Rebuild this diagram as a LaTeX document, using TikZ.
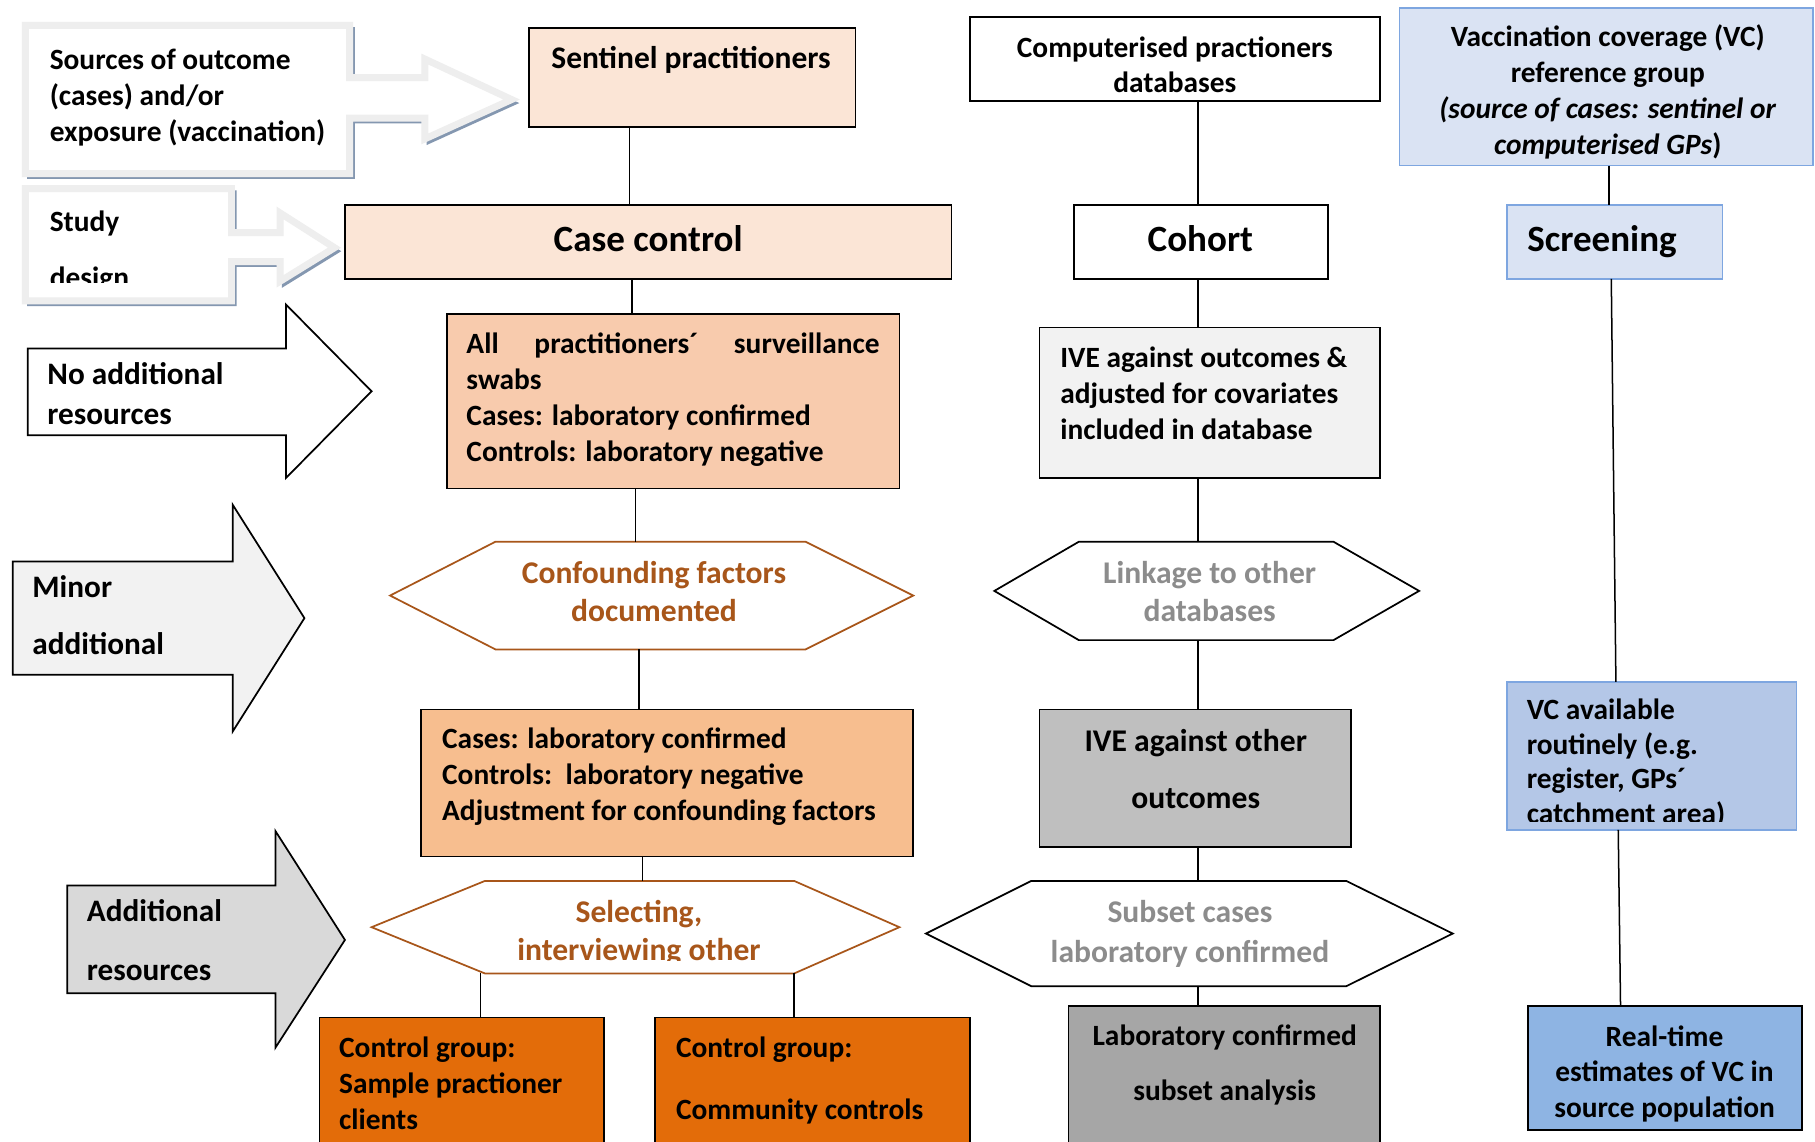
\documentclass[tikz,border=0pt]{standalone}
\usepackage{fontspec}
\setmainfont{Carlito}
\usetikzlibrary{calc}
\definecolor{peachA}{HTML}{FBE5D6}
\definecolor{peachB}{HTML}{F8CBAD}
\definecolor{peachC}{HTML}{F7BE8F}
\definecolor{orangeD}{HTML}{E36C09}
\definecolor{greyA}{HTML}{F2F2F2}
\definecolor{greyB}{HTML}{BFBFBF}
\definecolor{greyC}{HTML}{A6A6A6}
\definecolor{greyD}{HTML}{D9D9D9}
\definecolor{blueA}{HTML}{DAE3F3}
\definecolor{blueB}{HTML}{B4C7E7}
\definecolor{blueC}{HTML}{8EB4E3}
\definecolor{blueLine}{HTML}{7EA6E0}
\definecolor{brownH}{HTML}{A8561A}
\definecolor{greyT}{HTML}{8C8C8C}
\definecolor{shadowC}{HTML}{8497B0}
\definecolor{calloutC}{HTML}{EEEEEE}
\begin{document}
\begin{tikzpicture}[x=1pt,y=-1pt,
  bx/.style={draw=black, line width=1.5pt, anchor=north west, inner sep=0pt, outer sep=0pt},
  hx/.style={inner sep=0pt, outer sep=0pt},
  hexbrown/.style={draw=brownH, line width=1.5pt, fill=white},
  hexblack/.style={draw=black, line width=1.5pt, fill=white},
  ln/.style={line width=1.3pt},
  blockarrow/.style={draw=black, line width=1.5pt},
  ftA/.style={font=\fontsize{25.4}{31}\selectfont\bfseries},
  ftB/.style={font=\fontsize{27}{34}\selectfont\bfseries},
  ftC/.style={font=\fontsize{32}{38}\selectfont\bfseries},
  tx/.style={inner sep=0pt, outer sep=0pt, align=left, anchor=west, yshift=-2.5pt},
  tc/.style={inner sep=0pt, outer sep=0pt, align=center, anchor=center, yshift=-2.5pt},
]
\useasboundingbox (0,0) rectangle (1568,986);
\clip (0,0) rectangle (1568,986);
\fill[white] (0,0) rectangle (1568,986);

% ---------- callout: sources ----------
\begin{scope}[shift={(3,3)}]
\draw[shadowC, line width=3pt] (22,22) -- (302,22) -- (302,67) -- (367,67) -- (367,51) -- (442,86) -- (367,120) -- (367,102) -- (302,102) -- (302,150) -- (22,150) -- cycle;
\end{scope}
\fill[white] (22,22) -- (302,22) -- (302,67) -- (367,67) -- (367,51) -- (442,86) -- (367,120) -- (367,102) -- (302,102) -- (302,150) -- (22,150) -- cycle;
\draw[calloutC, line width=6pt] (22,22) -- (302,22) -- (302,67) -- (367,67) -- (367,51) -- (442,86) -- (367,120) -- (367,102) -- (302,102) -- (302,150) -- (22,150) -- cycle;
\node[tx, ftA] (srcT) at (43,82.5) {\strut Sources of outcome\\\strut (cases) and/or\\\strut exposure (vaccination)};

% ---------- callout: study design ----------
\begin{scope}[shift={(3,3)}]
\draw[shadowC, line width=3pt] (22,163) -- (200,163) -- (200,201) -- (242,201) -- (242,184) -- (289,214) -- (242,243) -- (242,226) -- (200,226) -- (200,260) -- (22,260) -- cycle;
\end{scope}
\fill[white] (22,163) -- (200,163) -- (200,201) -- (242,201) -- (242,184) -- (289,214) -- (242,243) -- (242,226) -- (200,226) -- (200,260) -- (22,260) -- cycle;
\draw[calloutC, line width=6pt] (22,163) -- (200,163) -- (200,201) -- (242,201) -- (242,184) -- (289,214) -- (242,243) -- (242,226) -- (200,226) -- (200,260) -- (22,260) -- cycle;
\begin{scope}
\clip (22,163) rectangle (200,244);
\node[tx, font=\fontsize{25.4}{48}\selectfont\bfseries] (studyT) at (43,212.2) {\strut Study\\\strut design};
\end{scope}

% ---------- block arrows ----------
\draw[blockarrow, fill=white] (24,301) -- (247,301) -- (247,263) -- (321,338) -- (247,413) -- (247,376) -- (24,376) -- cycle;
\node[tx, ftB] (noaddT) at (41,340) {\strut No additional\\\strut resources};

\draw[blockarrow, fill=greyA] (11,485) -- (201,485) -- (201,436) -- (263,534) -- (201,632) -- (201,583) -- (11,583) -- cycle;
\node[tx, font=\fontsize{27}{50}\selectfont\bfseries] (minorT) at (28,528.3) {\strut Minor\\\strut additional};

\draw[blockarrow, fill=greyD] (58,765) -- (238,765) -- (238,718) -- (298,812) -- (238,905) -- (238,858) -- (58,858) -- cycle;
\node[tx, font=\fontsize{27}{51}\selectfont\bfseries] (addT) at (75,808.8) {\strut Additional\\\strut resources};

% ---------- case-control column ----------
\node[bx, fill=peachA, minimum width=282pt, minimum height=86pt] (sent) at (457,24) {};
\node[tc, font=\fontsize{27.2}{33}\selectfont\bfseries] (sentT) at (597,50) {\strut Sentinel practitioners};

\node[bx, fill=peachA, minimum width=524pt, minimum height=64pt] (cc) at (298,177) {};
\node[tc, ftC] (ccT) at (560,207) {\strut Case control};

\node[bx, fill=peachB, minimum width=391pt, minimum height=151pt] (allp) at (386,271) {};
\node[tx, ftA] (allpT) at (403,343.5) {\strut\makebox[357pt][s]{All practitioners´ surveillance}\\\strut swabs\\\strut Cases: laboratory confirmed\\\strut Controls: laboratory negative};

\node[hx, minimum width=452pt, minimum height=93pt] (conf) at (563,514.5) {};
\draw[hexbrown] (conf.west) -- ($(conf.north west)+(91,0)$) -- ($(conf.north east)+(-93,0)$) -- (conf.east) -- ($(conf.south east)+(-93,0)$) -- ($(conf.south west)+(91,0)$) -- cycle;
\node[tc, font=\fontsize{27.3}{33}\selectfont\bfseries, text=brownH] (confT) at (565,511.5) {\strut Confounding factors\\\strut documented};

\node[bx, fill=peachC, minimum width=425pt, minimum height=127pt] (cases) at (364,613) {};
\node[tx, ftA] (casesT) at (382,669) {\strut Cases: laboratory confirmed\\\strut Controls:\ \ laboratory negative\\\strut Adjustment for confounding factors};

\node[hx, minimum width=456pt, minimum height=80pt] (sel) at (549,801) {};
\draw[hexbrown] (sel.west) -- ($(sel.north west)+(98,0)$) -- ($(sel.north east)+(-91,0)$) -- (sel.east) -- ($(sel.south east)+(-91,0)$) -- ($(sel.south west)+(98,0)$) -- cycle;
\begin{scope}
\clip (321,761) rectangle (777,830);
\node[tc, font=\fontsize{27.3}{33}\selectfont\bfseries, text=brownH] (selT) at (552,804.5) {\strut Selecting,\\\strut interviewing other};
\end{scope}

\node[bx, fill=orangeD, minimum width=246pt, minimum height=120pt] (ctrlA) at (276,879) {};
\node[tx, ftA] (ctrlAT) at (293,936) {\strut Control group:\\\strut Sample practioner\\\strut clients};

\node[bx, fill=orangeD, minimum width=272pt, minimum height=120pt] (ctrlB) at (566,879) {};
\node[tx, font=\fontsize{25.4}{54}\selectfont\bfseries] (ctrlBT) at (584,927) {\strut Control group:\\\strut Community controls};

% ---------- cohort column ----------
\node[bx, fill=white, minimum width=354pt, minimum height=72pt] (comp) at (838,15) {};
\node[tc, font=\fontsize{25.4}{30}\selectfont\bfseries] (compT) at (1015,56) {\strut Computerised practioners\\\strut databases};

\node[bx, fill=white, minimum width=219pt, minimum height=64pt] (coh) at (928,177) {};
\node[tc, ftC] (cohT) at (1037,207) {\strut Cohort};

\node[bx, fill=greyA, minimum width=294pt, minimum height=130pt] (ive1) at (898,283) {};
\node[tx, ftA] (ive1T) at (916,340) {\strut IVE against outcomes \&\\\strut adjusted for covariates\\\strut included in database};

\node[hx, minimum width=367pt, minimum height=85pt] (link) at (1042.5,510.5) {};
\draw[hexblack] (link.west) -- ($(link.north west)+(73,0)$) -- ($(link.north east)+(-74,0)$) -- (link.east) -- ($(link.south east)+(-74,0)$) -- ($(link.south west)+(73,0)$) -- cycle;
\node[tc, font=\fontsize{27.3}{33}\selectfont\bfseries, text=greyT] (linkT) at (1045,511.5) {\strut Linkage to other\\\strut databases};

\node[bx, fill=greyB, minimum width=269pt, minimum height=119pt] (ive2) at (898,613) {};
\node[tc, font=\fontsize{27.3}{50}\selectfont\bfseries] (ive2T) at (1033,661.3) {\strut IVE against other\\\strut outcomes};

\node[hx, minimum width=455pt, minimum height=91pt] (sub) at (1027.5,806.5) {};
\draw[hexblack] (sub.west) -- ($(sub.north west)+(91,0)$) -- ($(sub.north east)+(-92,0)$) -- (sub.east) -- ($(sub.south east)+(-92,0)$) -- ($(sub.south west)+(91,0)$) -- cycle;
\node[tc, font=\fontsize{27.3}{34}\selectfont\bfseries, text=greyT] (subT) at (1028,805) {\strut Subset cases\\\strut laboratory confirmed};

\node[bx, fill=greyC, minimum width=269pt, minimum height=130pt] (lab) at (923,869) {};
\node[tc, font=\fontsize{25.4}{47}\selectfont\bfseries] (labT) at (1058,914.9) {\strut Laboratory confirmed\\\strut subset analysis};

% ---------- screening column ----------
\node[bx, draw=blueLine, fill=blueA, minimum width=357pt, minimum height=136pt] (vc) at (1209,7) {};
\node[tc, ftA] (vcT) at (1389,78) {\strut Vaccination coverage (VC)\\\strut reference group\\\strut\textit{(source of cases: sentinel or}\\\strut\textit{computerised GPs})};

\node[bx, draw=blueLine, fill=blueA, minimum width=186pt, minimum height=64pt] (scr) at (1302,177) {};
\node[tc, ftC] (scrT) at (1384,207) {\strut Screening};

\node[bx, draw=blueLine, fill=blueB, minimum width=250pt, minimum height=128pt] (vca) at (1302,589) {};
\begin{scope}
\clip (1302,589) rectangle (1552,710);
\node[tx, font=\fontsize{25.4}{30}\selectfont\bfseries] (vcaT) at (1319,658) {\strut VC available\\\strut routinely (e.g.\\\strut register, GPs´\\\strut catchment area)};
\end{scope}

\node[bx, fill=blueC, minimum width=237pt, minimum height=107pt] (rt) at (1320,869) {};
\node[tc, ftA] (rtT) at (1438,926) {\strut Real-time\\\strut estimates of VC in\\\strut source population};

% ---------- connector x positions ----------
\coordinate (xa) at (544,0);
\coordinate (xb) at (546,0);
\coordinate (xc) at (549,0);
\coordinate (xd) at (552,0);
\coordinate (xe) at (555,0);
\coordinate (xf) at (415,0);
\coordinate (xg) at (686,0);
\coordinate (xh) at (1035,0);
\coordinate (xi) at (1390,0);
\coordinate (xj) at (1392,0);
\coordinate (xk) at (1396,0);
\coordinate (xl) at (1398,0);
\coordinate (xm) at (1400,0);

% ---------- connectors ----------
\draw[ln] (sent.south -| xa) -- (cc.north -| xa);
\draw[ln] (cc.south -| xb) -- (allp.north -| xb);
\draw[ln] (allp.south -| xc) -- (conf.north -| xc);
\draw[ln] (conf.south -| xd) -- (cases.north -| xd);
\draw[ln] (cases.south -| xe) -- (sel.north -| xe);
\draw[ln] (sel.south -| xf) -- (ctrlA.north -| xf);
\draw[ln] (sel.south -| xg) -- (ctrlB.north -| xg);

\draw[ln] (comp.south -| xh) -- (coh.north -| xh);
\draw[ln] (coh.south -| xh) -- (ive1.north -| xh);
\draw[ln] (ive1.south -| xh) -- (link.north -| xh);
\draw[ln] (link.south -| xh) -- (ive2.north -| xh);
\draw[ln] (ive2.south -| xh) -- (sub.north -| xh);
\draw[ln] (sub.south -| xh) -- (lab.north -| xh);

\draw[ln] (vc.south -| xi) -- (scr.north -| xi);
\draw[ln] (scr.south -| xj) -- (vca.north -| xk);
\draw[ln] (vca.south -| xl) -- (rt.north -| xm);
\end{tikzpicture}
\end{document}
